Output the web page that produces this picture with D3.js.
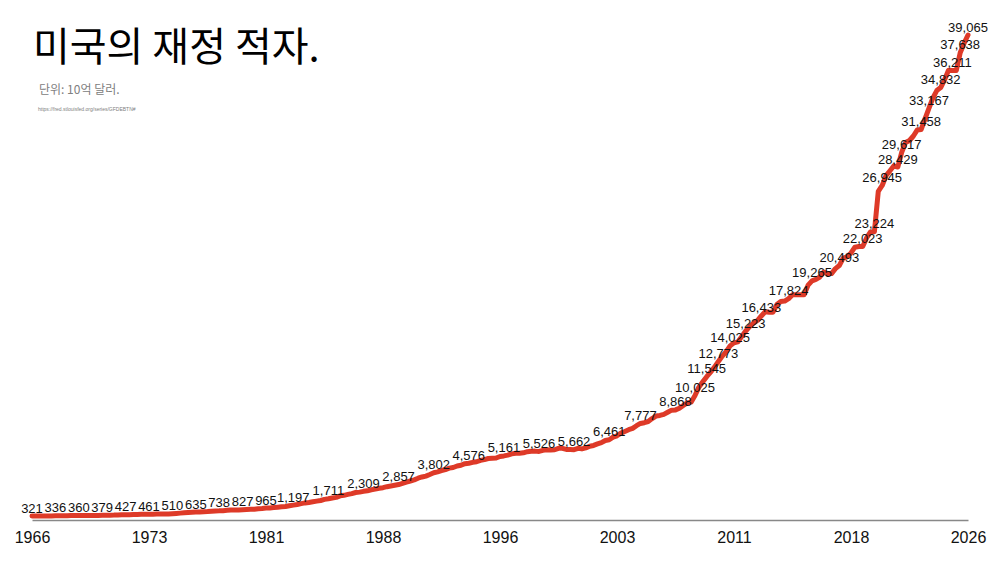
<!DOCTYPE html>
<html><head><meta charset="utf-8">
<script src="https://cdn.jsdelivr.net/npm/d3@7"></script>
<style>
html,body{margin:0;padding:0;background:#fff;}
svg{display:block;}
</style></head>
<body>
<svg id="chart" width="1000" height="563"></svg>
<script>
// Quarterly US federal debt (billions USD), 1966Q1 .. 2026Q1
const startYear = 1966;
const debtByYear = [
  [321, 320, 325, 329],      // 1966
  [331, 327, 336, 345],      // 1967
  [348, 348, 357, 358],      // 1968
  [360, 354, 364, 368],      // 1969
  [372, 371, 379, 389],      // 1970
  [392, 398, 411, 424],      // 1971
  [427, 427, 437, 449],      // 1972
  [456, 458, 461, 470],      // 1973
  [475, 475, 481, 493],      // 1974
  [510, 533, 554, 577],      // 1975
  [599, 620, 635, 654],      // 1976
  [669, 685, 709, 729],      // 1977
  [738, 754, 780, 797],      // 1978
  [812, 812, 827, 845],      // 1979
  [863, 871, 908, 930],      // 1980
  [965, 971, 998, 1028],     // 1981
  [1062, 1085, 1142, 1197],  // 1982
  [1245, 1319, 1377, 1410],  // 1983
  [1463, 1518, 1572, 1663],  // 1984
  [1711, 1774, 1823, 1945],  // 1985
  [1986, 2059, 2125, 2214],  // 1986
  [2246, 2309, 2350, 2431],  // 1987
  [2487, 2555, 2602, 2684],  // 1988
  [2741, 2799, 2857, 2953],  // 1989
  [3052, 3143, 3233, 3365],  // 1990
  [3465, 3538, 3665, 3802],  // 1991
  [3881, 3984, 4065, 4177],  // 1992
  [4231, 4352, 4411, 4536],  // 1993
  [4576, 4646, 4692, 4800],  // 1994
  [4864, 4951, 4974, 4989],  // 1995
  [5118, 5161, 5225, 5323],  // 1996
  [5380, 5376, 5413, 5502],  // 1997
  [5543, 5548, 5526, 5614],  // 1998
  [5652, 5639, 5656, 5776],  // 1999
  [5773, 5686, 5674, 5662],  // 2000
  [5773, 5727, 5807, 5943],  // 2001
  [6006, 6126, 6228, 6405],  // 2002
  [6461, 6670, 6783, 6998],  // 2003
  [7131, 7274, 7379, 7596],  // 2004
  [7777, 7836, 7933, 8170],  // 2005
  [8371, 8420, 8507, 8680],  // 2006
  [8849, 8868, 9008, 9229],  // 2007
  [9437, 9492, 10025, 10700],// 2008
  [11127, 11545, 11910, 12311], // 2009
  [12773, 13202, 13562, 14025], // 2010
  [14271, 14343, 14790, 15223], // 2011
  [15582, 15856, 16066, 16433], // 2012
  [16771, 16738, 16738, 17352], // 2013
  [17601, 17632, 17824, 18141], // 2014
  [18152, 18152, 18153, 18922], // 2015
  [19265, 19381, 19573, 19977], // 2016
  [19846, 19845, 20245, 20493], // 2017
  [21090, 21195, 21516, 21974], // 2018
  [22028, 22023, 22719, 23201], // 2019
  [23224, 26477, 26945, 27748], // 2020
  [28133, 28529, 28429, 29617], // 2021
  [30401, 30568, 30929, 31420], // 2022
  [31458, 32332, 33167, 34001], // 2023
  [34587, 34832, 35465, 36219], // 2024
  [36211, 36211, 37638, 38400], // 2025
  [39065]                       // 2026
];

// quarters that carry a value label
const labeledQuarters = [
  "1966Q1","1967Q3","1969Q1","1970Q3","1972Q1","1973Q3","1975Q1","1976Q3","1978Q1","1979Q3",
  "1981Q1","1982Q4","1985Q1","1987Q2","1989Q3","1991Q4","1994Q1","1996Q2","1998Q3","2000Q4",
  "2003Q1","2005Q1","2007Q2","2008Q3","2009Q2","2010Q1","2010Q4","2011Q4","2012Q4","2014Q3",
  "2016Q1","2017Q4","2019Q2","2020Q1","2020Q3","2021Q3","2021Q4","2023Q1","2023Q3","2024Q2",
  "2025Q1","2025Q3","2026Q1"
];

const tickLabels = ["1966","1973","1981","1988","1996","2003","2011","2018","2026"];

const titleText = "미국의 재정 적자.";
const subtitleText = "단위: 10억 달러.";
const sourceText = "https://fred.stlouisfed.org/series/GFDEBTN#";

// ---------- build table ----------
const data = [];
debtByYear.forEach((vals, yi) => {
  vals.forEach((v, qi) => {
    data.push({ t: startYear + yi + qi / 4, q: (startYear + yi) + "Q" + (qi + 1), v: v });
  });
});
const tFirst = data[0].t, tLast = data[data.length - 1].t;

const svg = d3.select("#chart");
const x = d3.scaleLinear().domain([tFirst, tLast]).range([32, 968]);
const y = d3.scaleLinear().domain([0, d3.max(data, d => d.v)]).range([520, 35]);

// title block
svg.append("text").attr("x", 33).attr("y", 61)
  .attr("font-family", "'Noto Sans CJK KR', sans-serif").attr("font-size", 40)
  .attr("fill", "#000").text(titleText);
svg.append("text").attr("x", 39).attr("y", 94)
  .attr("font-family", "'Noto Sans CJK KR', sans-serif").attr("font-size", 12)
  .attr("fill", "#808080").text(subtitleText);
svg.append("text").attr("x", 38).attr("y", 111)
  .attr("font-family", "'Liberation Sans', Arial, sans-serif").attr("font-size", 5)
  .attr("fill", "#808080").text(sourceText);

// axis
const tickVals = tickLabels.map((s, i) => tFirst + i * (tLast - tFirst) / (tickLabels.length - 1));
const xAxis = d3.axisBottom(x).tickValues(tickVals)
  .tickFormat((d, i) => tickLabels[i]).tickSize(0).tickPadding(12);
const gx = svg.append("g").attr("transform", "translate(0,520)").call(xAxis);
gx.select(".domain").attr("stroke", "#888").attr("stroke-width", 1.5);
gx.selectAll("text").attr("font-family", "'Liberation Sans', Arial, Helvetica, sans-serif")
  .attr("font-size", 16).attr("fill", "#111");

// line
const line = d3.line().x(d => x(d.t)).y(d => y(d.v));
svg.append("path").datum(data).attr("d", line)
  .attr("fill", "none").attr("stroke", "#de3a28").attr("stroke-width", 5)
  .attr("stroke-linejoin", "round").attr("stroke-linecap", "round");

// labels
const fmt = d3.format(",");
const labelSet = new Set(labeledQuarters);
svg.append("g").selectAll("text").data(data.filter(d => labelSet.has(d.q))).join("text")
  .attr("x", d => x(d.t)).attr("y", d => y(d.v) - 3.5)
  .attr("text-anchor", "middle")
  .attr("font-family", "'Liberation Sans', Arial, Helvetica, sans-serif")
  .attr("font-size", 13).attr("fill", "#111")
  .text(d => fmt(d.v));
</script>
</body></html>
